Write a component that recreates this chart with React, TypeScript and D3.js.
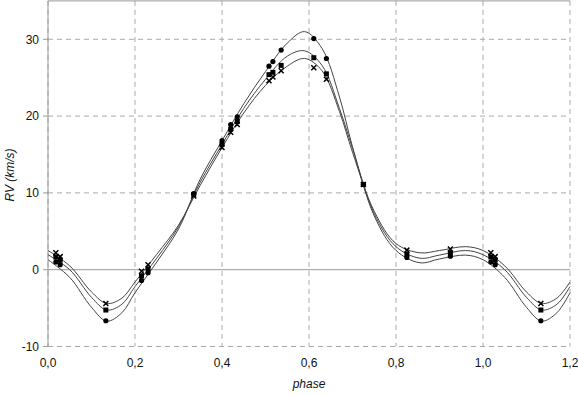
import React from 'react';
import * as d3 from 'd3';

// observed phases (last three are the same nights shifted by one period)
const obsPhase = [0.018, 0.028, 0.133, 0.215, 0.23, 0.335, 0.4, 0.42, 0.435, 0.508, 0.517, 0.536, 0.611, 0.64, 0.725, 0.825, 0.925, 1.018, 1.028, 1.133];
const rvCircle = [1.0, 0.65, -6.65, -1.4, -0.4, 9.9, 16.8, 18.9, 19.9, 26.5, 27.1, 28.6, 30.1, 27.5, 11.1, 1.6, 1.75, 1.0, 0.65, -6.65];
const rvSquare = [1.65, 1.25, -5.25, -0.8, 0.1, 9.8, 16.3, 18.3, 19.3, 25.4, 25.7, 26.6, 27.6, 25.5, 11.1, 2.0, 2.2, 1.65, 1.25, -5.25];
const rvCross = [2.2, 1.7, -4.4, -0.2, 0.65, 9.6, 15.9, 17.9, 18.9, 24.6, 25.1, 25.9, 26.3, 24.8, 11.1, 2.55, 2.7, 2.2, 1.7, -4.4];

// fitted curves
const fitPhase = [0, 0.05, 0.1, 0.135, 0.17, 0.2, 0.25, 0.3, 0.35, 0.4, 0.45, 0.5, 0.55, 0.59, 0.63, 0.67, 0.7, 0.75, 0.8, 0.855, 0.9, 0.96, 1.0, 1.05, 1.1, 1.135, 1.17, 1.2];
const fitCircle = [1.3, -1.0, -4.9, -6.7, -5.6, -3.0, 1.0, 5.3, 11.8, 16.8, 21.6, 25.8, 29.5, 31.0, 28.8, 22.5, 16.0, 7.0, 2.5, 0.9, 1.4, 1.9, 1.3, -1.0, -4.9, -6.7, -5.6, -3.0];
const fitSquare = [1.95, 0.0, -3.6, -5.25, -4.5, -2.2, 1.5, 5.6, 11.4, 16.3, 21.0, 24.8, 27.8, 28.5, 26.6, 21.0, 15.8, 7.3, 3.0, 1.5, 1.9, 2.5, 1.95, 0.0, -3.6, -5.25, -4.5, -2.2];
const fitCross = [2.5, 0.5, -2.9, -4.4, -3.7, -1.6, 2.0, 5.8, 11.0, 15.9, 20.4, 24.0, 26.5, 27.5, 25.9, 20.6, 15.3, 7.6, 3.4, 2.2, 2.5, 3.0, 2.5, 0.5, -2.9, -4.4, -3.7, -1.6];

const xTicks = [0, 0.2, 0.4, 0.6, 0.8, 1.0, 1.2];
const yTicks = [-10, 0, 10, 20, 30];

const W = 578;
const H = 396;
const left = 48;
const right = 570;
const top = 0.9;
const bottom = 346.5;

const fmt = (v: number) => v.toFixed(1).replace('.', ',');

export default function App() {
  const x = d3.scaleLinear().domain([0, 1.2]).range([left, right]);
  const y = d3.scaleLinear().domain([-10, 35]).range([bottom, top]);

  const line = d3.line<[number, number]>()
    .x(d => x(d[0]))
    .y(d => y(d[1]))
    .curve(d3.curveCatmullRom.alpha(0.5));

  const fits = [fitCircle, fitSquare, fitCross];
  const font = 'Liberation Sans, Arial, sans-serif';

  return (
    <svg width={W} height={H} style={{ position: 'absolute', left: 0, top: 0, background: '#fff' }}>
      {/* grid */}
      {xTicks.map(t => (
        <line key={'gx' + t} x1={x(t)} x2={x(t)} y1={top} y2={bottom}
          stroke="#aaa" strokeDasharray="5,4" />
      ))}
      {yTicks.filter(t => t !== 0).map(t => (
        <line key={'gy' + t} x1={left} x2={right} y1={y(t)} y2={y(t)}
          stroke="#aaa" strokeDasharray="5,4" />
      ))}
      <line x1={left} x2={right} y1={y(0)} y2={y(0)} stroke="#999" />
      <line x1={left} x2={right} y1={top} y2={top} stroke="#999" />
      <line x1={left} x2={left} y1={top} y2={bottom} stroke="#999" />
      {yTicks.map(t => (
        <g key={'ty' + t}>
          <line x1={left - 5} x2={left} y1={y(t)} y2={y(t)} stroke="#999" />
          <text x={left - 9} y={y(t)} dy="0.35em" textAnchor="end" fontFamily={font} fontSize={12} fill="#111">{t}</text>
        </g>
      ))}
      {xTicks.map(t => (
        <text key={'tx' + t} x={x(t)} y={367} textAnchor="middle" fontFamily={font} fontSize={12} fill="#111">{fmt(t)}</text>
      ))}
      <text x={309} y={388} textAnchor="middle" fontFamily={font} fontSize={12} fontStyle="italic" fill="#111">phase</text>
      <text transform={`translate(14,175) rotate(-90)`} textAnchor="middle" fontFamily={font} fontSize={12} fontStyle="italic" fill="#111">RV (km/s)</text>

      {/* fitted curves */}
      {fits.map((f, i) => (
        <path key={'f' + i} d={line(fitPhase.map((p, j) => [p, f[j]] as [number, number])) || ''}
          fill="none" stroke="#444" strokeWidth={1} />
      ))}

      {/* observations */}
      {obsPhase.map((p, i) => (
        <circle key={'c' + i} cx={x(p)} cy={y(rvCircle[i])} r={2.6} fill="#000" />
      ))}
      {obsPhase.map((p, i) => (
        <rect key={'s' + i} x={x(p) - 2.5} y={y(rvSquare[i]) - 2.5} width={5} height={5} fill="#000" />
      ))}
      {obsPhase.map((p, i) => {
        const cx = x(p);
        const cy = y(rvCross[i]);
        return (
          <path key={'x' + i} d={`M${cx - 2.5},${cy - 2.5}L${cx + 2.5},${cy + 2.5}M${cx - 2.5},${cy + 2.5}L${cx + 2.5},${cy - 2.5}`}
            stroke="#000" strokeWidth={1.5} />
        );
      })}
    </svg>
  );
}
